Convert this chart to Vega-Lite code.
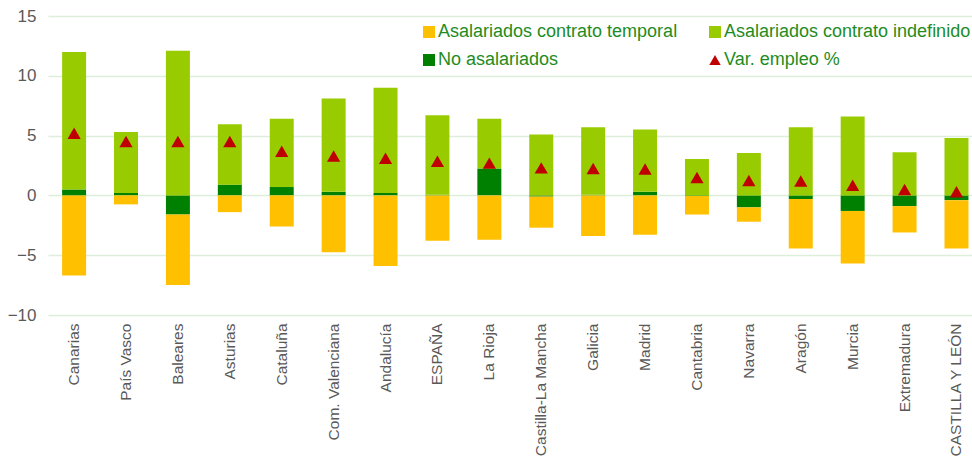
{
  "$schema": "https://vega.github.io/schema/vega-lite/v6.json",
  "width": 924,
  "height": 299,
  "autosize": {"type": "none"},
  "padding": {"left": 48, "top": 16, "right": 0, "bottom": 156},
  "background": "white",
  "config": {
    "view": {"stroke": null},
    "font": "Liberation Sans"
  },
  "datasets": {
    "bars": [
      {"region": "Canarias", "tipo": "No asalariados", "valor": 0.5},
      {"region": "Canarias", "tipo": "Asalariados contrato indefinido", "valor": 11.5},
      {"region": "Canarias", "tipo": "Asalariados contrato temporal", "valor": -6.7},
      {"region": "País Vasco", "tipo": "No asalariados", "valor": 0.2},
      {"region": "País Vasco", "tipo": "Asalariados contrato indefinido", "valor": 5.1},
      {"region": "País Vasco", "tipo": "Asalariados contrato temporal", "valor": -0.75},
      {"region": "Baleares", "tipo": "No asalariados", "valor": -1.6},
      {"region": "Baleares", "tipo": "Asalariados contrato indefinido", "valor": 12.1},
      {"region": "Baleares", "tipo": "Asalariados contrato temporal", "valor": -5.9},
      {"region": "Asturias", "tipo": "No asalariados", "valor": 0.9},
      {"region": "Asturias", "tipo": "Asalariados contrato indefinido", "valor": 5.05},
      {"region": "Asturias", "tipo": "Asalariados contrato temporal", "valor": -1.4},
      {"region": "Cataluña", "tipo": "No asalariados", "valor": 0.7},
      {"region": "Cataluña", "tipo": "Asalariados contrato indefinido", "valor": 5.7},
      {"region": "Cataluña", "tipo": "Asalariados contrato temporal", "valor": -2.6},
      {"region": "Com. Valenciana", "tipo": "No asalariados", "valor": 0.3},
      {"region": "Com. Valenciana", "tipo": "Asalariados contrato indefinido", "valor": 7.8},
      {"region": "Com. Valenciana", "tipo": "Asalariados contrato temporal", "valor": -4.75},
      {"region": "Andalucía", "tipo": "No asalariados", "valor": 0.2},
      {"region": "Andalucía", "tipo": "Asalariados contrato indefinido", "valor": 8.8},
      {"region": "Andalucía", "tipo": "Asalariados contrato temporal", "valor": -5.9},
      {"region": "ESPAÑA", "tipo": "No asalariados", "valor": 0.05},
      {"region": "ESPAÑA", "tipo": "Asalariados contrato indefinido", "valor": 6.65},
      {"region": "ESPAÑA", "tipo": "Asalariados contrato temporal", "valor": -3.8},
      {"region": "La Rioja", "tipo": "No asalariados", "valor": 2.25},
      {"region": "La Rioja", "tipo": "Asalariados contrato indefinido", "valor": 4.15},
      {"region": "La Rioja", "tipo": "Asalariados contrato temporal", "valor": -3.7},
      {"region": "Castilla-La Mancha", "tipo": "No asalariados", "valor": -0.1},
      {"region": "Castilla-La Mancha", "tipo": "Asalariados contrato indefinido", "valor": 5.1},
      {"region": "Castilla-La Mancha", "tipo": "Asalariados contrato temporal", "valor": -2.6},
      {"region": "Galicia", "tipo": "No asalariados", "valor": 0.05},
      {"region": "Galicia", "tipo": "Asalariados contrato indefinido", "valor": 5.65},
      {"region": "Galicia", "tipo": "Asalariados contrato temporal", "valor": -3.4},
      {"region": "Madrid", "tipo": "No asalariados", "valor": 0.3},
      {"region": "Madrid", "tipo": "Asalariados contrato indefinido", "valor": 5.2},
      {"region": "Madrid", "tipo": "Asalariados contrato temporal", "valor": -3.3},
      {"region": "Cantabria", "tipo": "No asalariados", "valor": -0.05},
      {"region": "Cantabria", "tipo": "Asalariados contrato indefinido", "valor": 3.05},
      {"region": "Cantabria", "tipo": "Asalariados contrato temporal", "valor": -1.55},
      {"region": "Navarra", "tipo": "No asalariados", "valor": -1.0},
      {"region": "Navarra", "tipo": "Asalariados contrato indefinido", "valor": 3.55},
      {"region": "Navarra", "tipo": "Asalariados contrato temporal", "valor": -1.2},
      {"region": "Aragón", "tipo": "No asalariados", "valor": -0.3},
      {"region": "Aragón", "tipo": "Asalariados contrato indefinido", "valor": 5.7},
      {"region": "Aragón", "tipo": "Asalariados contrato temporal", "valor": -4.15},
      {"region": "Murcia", "tipo": "No asalariados", "valor": -1.3},
      {"region": "Murcia", "tipo": "Asalariados contrato indefinido", "valor": 6.6},
      {"region": "Murcia", "tipo": "Asalariados contrato temporal", "valor": -4.4},
      {"region": "Extremadura", "tipo": "No asalariados", "valor": -0.9},
      {"region": "Extremadura", "tipo": "Asalariados contrato indefinido", "valor": 3.6},
      {"region": "Extremadura", "tipo": "Asalariados contrato temporal", "valor": -2.2},
      {"region": "CASTILLA Y LEÓN", "tipo": "No asalariados", "valor": -0.4},
      {"region": "CASTILLA Y LEÓN", "tipo": "Asalariados contrato indefinido", "valor": 4.8},
      {"region": "CASTILLA Y LEÓN", "tipo": "Asalariados contrato temporal", "valor": -4.05}
    ],
    "var": [
      {"region": "Canarias", "var": 5.2},
      {"region": "País Vasco", "var": 4.5},
      {"region": "Baleares", "var": 4.5},
      {"region": "Asturias", "var": 4.5},
      {"region": "Cataluña", "var": 3.7},
      {"region": "Com. Valenciana", "var": 3.3},
      {"region": "Andalucía", "var": 3.1},
      {"region": "ESPAÑA", "var": 2.85},
      {"region": "La Rioja", "var": 2.7},
      {"region": "Castilla-La Mancha", "var": 2.3},
      {"region": "Galicia", "var": 2.25},
      {"region": "Madrid", "var": 2.2},
      {"region": "Cantabria", "var": 1.5},
      {"region": "Navarra", "var": 1.25},
      {"region": "Aragón", "var": 1.2},
      {"region": "Murcia", "var": 0.85},
      {"region": "Extremadura", "var": 0.5},
      {"region": "CASTILLA Y LEÓN", "var": 0.3}
    ]
  },
  "encoding": {
    "x": {
      "field": "region",
      "type": "nominal",
      "sort": null,
      "title": null,
      "scale": {"paddingInner": 0.538, "paddingOuter": 0.17, "align": 0.8},
      "axis": {
        "labelAngle": -90,
        "labelAlign": "right",
        "labelBaseline": "middle",
        "labelFontSize": 15.5,
        "labelColor": "#595959",
        "labelPadding": 8,
        "ticks": false,
        "domain": false,
        "grid": false
      }
    }
  },
  "layer": [
    {
      "data": {"name": "bars"},
      "mark": {"type": "bar"},
      "encoding": {
        "y": {
          "field": "valor",
          "type": "quantitative",
          "stack": "zero",
          "title": null,
          "scale": {"domain": [-10, 15], "nice": false},
          "axis": {
            "values": [-10, -5, 0, 5, 10, 15],
            "labelFontSize": 17,
            "labelColor": "#595959",
            "labelPadding": 12,
            "ticks": false,
            "domain": false,
            "gridColor": "#DDEEDA",
            "gridWidth": 1.3
          }
        },
        "order": {"field": "tipo", "sort": "descending"},
        "color": {
          "field": "tipo",
          "type": "nominal",
          "title": null,
          "scale": {
            "domain": ["Asalariados contrato temporal", "Asalariados contrato indefinido", "No asalariados", "Var. empleo %"],
            "range": ["#FFC000", "#99CC00", "#008000", "#C00000"]
          },
          "legend": {
            "orient": "none",
            "legendX": 372,
            "legendY": 7,
            "direction": "horizontal",
            "columns": 2,
            "columnPadding": 28,
            "rowPadding": 10,
            "padding": 0,
            "symbolSize": 144,
            "symbolStrokeWidth": 0,
            "labelFontSize": 18,
            "labelColor": "#1E8C1E",
            "labelOffset": 0,
            "labelLimit": 400,
            "encode": {
              "symbols": {
                "update": {
                  "shape": {"signal": "datum.value === 'Var. empleo %' ? 'triangle-up' : 'square'"},
                  "size": {"signal": "datum.value === 'Var. empleo %' ? 130 : 144"}
                }
              }
            }
          }
        }
      }
    },
    {
      "mark": {"type": "rule", "color": "#6AAF5A", "strokeWidth": 2.2},
      "encoding": {"y": {"datum": 0}}
    },
    {
      "data": {"name": "var"},
      "mark": {"type": "point", "shape": "triangle-up", "filled": true, "size": 175, "opacity": 1},
      "encoding": {
        "y": {"field": "var", "type": "quantitative"},
        "color": {"datum": "Var. empleo %"}
      }
    }
  ]
}
